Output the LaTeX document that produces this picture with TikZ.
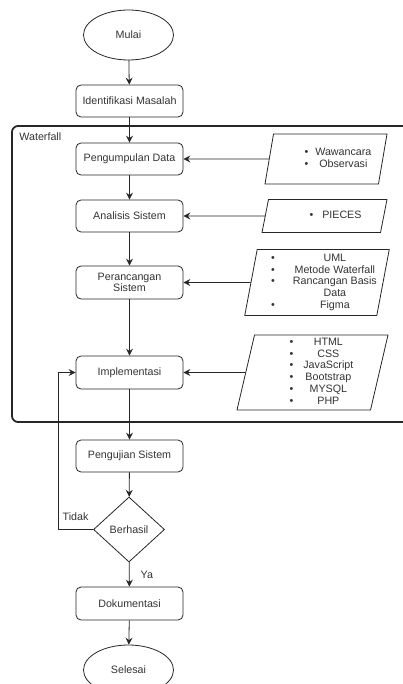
\documentclass[tikz,border=0pt]{standalone}
\usepackage{fontspec}
\setmainfont{Liberation Sans}
\usetikzlibrary{shapes.geometric}
\usetikzlibrary{arrows.meta}

\begin{document}
\begin{tikzpicture}[x=1pt,y=-1pt,inner sep=0pt,line width=0.8pt,
  font=\fontsize{10.7}{11.7}\selectfont,
  every node/.style={text=black!80},
  box/.style={draw=black!85,rounded corners=5pt,minimum width=107pt,minimum height=32pt,align=center},
  term/.style={draw=black!85,ellipse,minimum width=90pt,minimum height=50pt},
  io/.style={draw=black!85,trapezium,trapezium left angle=#1,trapezium right angle=180-#1,
    trapezium stretches body=true},
  arr/.style={draw=black!85,-{Stealth[length=7pt,width=7pt,inset=2.5pt]}}]
\useasboundingbox (0,0) rectangle (403,684);

\draw[line width=1.8pt,black!85,rounded corners=6pt] (12,126) rectangle (420,422);
\node[anchor=west] (wf) at (19,137) {Waterfall};

\node[term] (mulai) at (128.5,35) {Mulai};
\node[box] (idm) at (129.5,101) {Identifikasi Masalah};
\node[box] (pd) at (129.5,159) {Pengumpulan Data};
\node[box] (as) at (129.5,216) {Analisis Sistem};
\node[box,minimum height=33pt] (ps) at (129.5,282.5) {Perancangan\\Sistem};
\node[box,minimum height=33pt] (im) at (129.5,372.5) {Implementasi};
\node[box] (us) at (129.5,456) {Pengujian Sistem};
\node[draw=black!85,diamond,minimum width=71pt,minimum height=65pt] (bh) at (129,529.5) {Berhasil};
\node[box,minimum height=33pt] (dk) at (129.5,603.5) {Dokumentasi};
\node[term] (sl) at (128.5,670) {Selesai};

\node[io=70,minimum width=122pt,minimum height=50pt] (wc) at (326,159) {%
  \begin{tabular}{@{\hspace{24pt}}l@{\hspace{7pt}}c@{}}
  \textbullet & Wawancara\\ \textbullet & Observasi
  \end{tabular}};
\node[io=61,minimum width=125pt,minimum height=33pt] (pc) at (324.5,216) {%
  \begin{tabular}{@{\hspace{22pt}}l@{\hspace{9pt}}c@{}}
  \textbullet & PIECES
  \end{tabular}};
\node[io=78,minimum width=142pt,minimum height=66pt] (uml) at (317,282.5) {%
  \begin{tabular}{@{\hspace{14pt}}l@{\hspace{18pt}}c@{}}
  \textbullet & UML\\ \textbullet & Metode Waterfall\\ \textbullet & Rancangan Basis\\
   & Data\\ \textbullet & Figma
  \end{tabular}};
\node[io=76,minimum width=151pt,minimum height=75pt] (web) at (312.5,372.5) {%
  \begin{tabular}{@{\hspace{18pt}}l@{\hspace{10pt}}c@{}}
  \textbullet & HTML\\ \textbullet & CSS\\ \textbullet & JavaScript\\
  \textbullet & Bootstrap\\ \textbullet & MYSQL\\ \textbullet & PHP
  \end{tabular}};

\draw[arr] (mulai) -- (idm);
\draw[arr] (idm) -- (pd);
\draw[arr] (pd) -- (as);
\draw[arr] (as) -- (ps);
\draw[arr] (ps) -- (im);
\draw[arr] (im) -- (us);
\draw[arr] (us) -- (bh);
\draw[arr] (bh) -- (dk) node[midway,right=11pt] (ya) {Ya};
\draw[arr] (dk) -- (sl);

\draw[arr] (wc.west) -- (pd.east);
\draw[arr] (pc.west) -- (as.east);
\draw[arr] (uml.west) -- (ps.east);
\draw[arr] (web.west) -- (im.east);

\coordinate (back) at (58,529.5);
\draw[arr] (bh.west) -- (back) |- (im.west);
\node (td) at (75.5,517) {Tidak};
\end{tikzpicture}
\end{document}
